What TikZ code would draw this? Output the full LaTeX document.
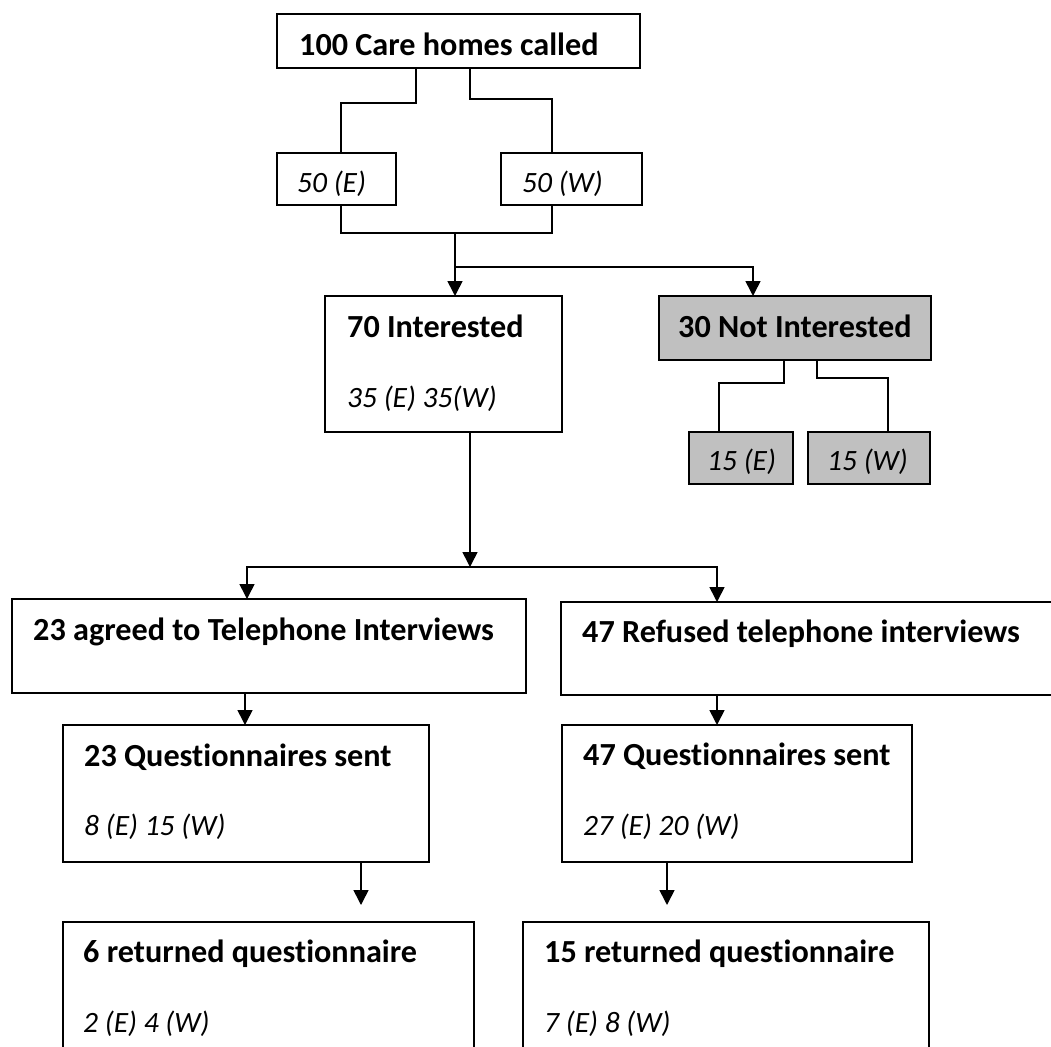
\documentclass[tikz,border=0pt]{standalone}
\usepackage{fontspec}
\setmainfont{Carlito}[Ligatures={NoCommon}]
\usetikzlibrary{arrows.meta,calc}
\definecolor{boxgray}{RGB}{192,192,192}
\begin{document}
\begin{tikzpicture}[x=1bp,y=-1bp,
  box/.style={draw=black, line width=1.6bp, rectangle, inner sep=0pt, outer sep=0pt, anchor=north west},
  graybox/.style={box, fill=boxgray},
  txt/.style={anchor=base west, inner sep=0pt, font=\fontsize{32.2bp}{38bp}\selectfont\bfseries},
  itxt/.style={anchor=base west, inner sep=0pt, font=\fontsize{29.5bp}{36bp}\selectfont\itshape},
  con/.style={line width=1.6bp},
  arr/.style={con, -{Triangle[length=15bp,width=15bp]}}]
\useasboundingbox (0,0) rectangle (1051,1047);
\fill[white] (0,0) rectangle (1051,1047);
\clip (0,0) rectangle (1051,1047);

% boxes
\node[box, minimum width=363bp, minimum height=54bp] (top) at (277,14) {};
\node[box, minimum width=119bp, minimum height=52bp] (e50) at (277,153) {};
\node[box, minimum width=141bp, minimum height=52bp] (w50) at (501,153) {};
\node[box, minimum width=237bp, minimum height=136bp] (int70) at (325,296) {};
\node[graybox, minimum width=272bp, minimum height=64bp] (notint) at (659,296) {};
\node[graybox, minimum width=104bp, minimum height=52bp] (e15) at (689,432) {};
\node[graybox, minimum width=122bp, minimum height=52bp] (w15) at (808,432) {};
\node[box, minimum width=514bp, minimum height=94bp] (agreed) at (12,599) {};
\node[box, minimum width=520bp, minimum height=93bp] (refused) at (561,602) {};
\node[box, minimum width=366bp, minimum height=137bp] (q23) at (63,725) {};
\node[box, minimum width=350bp, minimum height=137bp] (q47) at (562,725) {};
\node[box, minimum width=411bp, minimum height=160bp] (r6) at (63,922) {};
\node[box, minimum width=406bp, minimum height=160bp] (r15) at (523,922) {};

% texts
\node[txt] (topT) at ($(top.north west)+(22,41)$) {100 Care homes called};
\node[itxt] (e50T) at ($(e50.north west)+(20,39)$) {50 (E)};
\node[itxt] (w50T) at ($(w50.north west)+(21,39)$) {50 (W)};
\node[txt] (int70T) at ($(int70.north west)+(22,41)$) {70 Interested};
\node[itxt] (int70S) at ($(int70.north west)+(22,111)$) {35 (E) 35(W)};
\node[txt] (notintT) at ($(notint.north west)+(19,41)$) {30 Not Interested};
\node[itxt] (e15T) at ($(e15.north west)+(18,38)$) {15 (E)};
\node[itxt] (w15T) at ($(w15.north west)+(19,38)$) {15 (W)};
\node[txt] (agreedT) at ($(agreed.north west)+(21,41)$) {23 agreed to Telephone Interviews};
\node[txt] (refusedT) at ($(refused.north west)+(21,40)$) {47 Refused telephone interviews};
\node[txt] (q23T) at ($(q23.north west)+(21,41)$) {23 Questionnaires sent};
\node[itxt] (q23S) at ($(q23.north west)+(21,110)$) {8 (E) 15 (W)};
\node[txt] (q47T) at ($(q47.north west)+(21,40)$) {47 Questionnaires sent};
\node[itxt] (q47S) at ($(q47.north west)+(21,110)$) {27 (E) 20 (W)};
\node[txt] (r6T) at ($(r6.north west)+(20,40)$) {6 returned questionnaire};
\node[itxt] (r6S) at ($(r6.north west)+(20,110)$) {2 (E) 4 (W)};
\node[txt] (r15T) at ($(r15.north west)+(21,40)$) {15 returned questionnaire};
\node[itxt] (r15S) at ($(r15.north west)+(21,110)$) {7 (E) 8 (W)};

% junction coordinates
\coordinate (a1) at (416,103);
\coordinate (a2) at (341,103);
\coordinate (b1) at (470,99);
\coordinate (b2) at (552,99);
\coordinate (c1) at (341,233);
\coordinate (c2) at (552,233);
\coordinate (m1) at (455,233);
\coordinate (m2) at (455,267);
\coordinate (m3) at (753,267);
\coordinate (n1) at (784,383);
\coordinate (n2) at (719,383);
\coordinate (p1) at (817,378);
\coordinate (p2) at (888,378);
\coordinate (s0) at (470,567);
\coordinate (s1) at (247,567);
\coordinate (s2) at (717,567);
\coordinate (t1) at (245,700);
\coordinate (t2) at (717,700);
\coordinate (u1) at (361,900);
\coordinate (u2) at (667,900);

% connectors
\draw[con] (top.south -| a1) |- (a2) -- (e50.north -| a2);
\draw[con] (top.south -| b1) |- (b2) -- (w50.north -| b2);
\draw[con] (e50.south -| c1) -- (c1) -- (c2) -- (w50.south -| c2);
\draw[arr] (m1) -- (int70.north -| m1);
\draw[arr] (m2) -- (m3) -- (notint.north -| m3);
\draw[con] (notint.south -| n1) |- (n2) -- (e15.north -| n2);
\draw[con] (notint.south -| p1) |- (p2) -- (w15.north -| p2);
\draw[arr] (int70.south -| s0) -- (s0);
\draw[arr] (s0) -- (s1) -- (agreed.north -| s1);
\draw[arr] (s0) -- (s2) -- (refused.north -| s2);
\draw[arr] (agreed.south -| t1) -- (q23.north -| t1);
\draw[arr] (refused.south -| t2) -- (q47.north -| t2);
\draw[arr, shorten >=17bp] (q23.south -| u1) -- (r6.north -| u1);
\draw[arr, shorten >=17bp] (q47.south -| u2) -- (r15.north -| u2);
\end{tikzpicture}
\end{document}
